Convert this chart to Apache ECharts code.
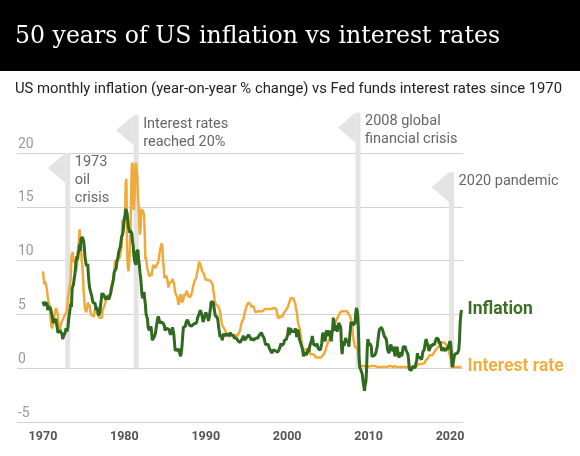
<!DOCTYPE html>
<html><head><meta charset="utf-8">
<script src="https://cdn.jsdelivr.net/npm/echarts@6/dist/echarts.min.js"></script>
<style>html,body{margin:0;padding:0;background:#fff}#c{width:580px;height:456px}</style>
</head><body><div id="c"></div>
<script>
// ---- DATA (monthly, starting January 1970) ----
const startYear = 1970;
const inflation = [
6.2,6.2,5.8,6.1,6.0,6.0,6.0,5.4,5.7,5.6,5.6,5.6,
5.3,5.0,4.7,4.2,4.4,4.6,4.4,4.6,4.1,3.8,3.3,3.3,
3.3,3.5,3.5,3.5,3.2,2.7,2.9,2.9,3.2,3.4,3.7,3.4,
3.6,3.9,4.6,5.1,5.5,6.0,5.7,7.4,7.4,7.8,8.3,8.7,
9.4,10.0,10.4,10.1,10.7,10.9,11.5,10.9,12.0,12.1,12.2,12.3,
11.8,11.2,10.3,10.2,9.5,9.4,9.7,8.6,7.9,7.4,7.4,6.9,
6.7,6.3,6.1,6.1,6.2,6.0,5.4,5.7,5.5,5.5,4.9,4.9,
5.2,5.9,6.4,7.0,6.7,6.9,6.8,6.6,6.6,6.4,6.7,6.7,
6.8,6.4,6.6,6.5,7.0,7.4,7.7,7.8,8.3,8.9,8.9,9.0,
9.3,9.9,10.1,10.5,10.9,10.9,11.3,11.8,12.2,12.1,12.6,13.3,
13.9,14.2,14.8,14.7,14.4,14.4,13.1,12.9,12.6,12.8,12.7,12.5,
11.8,11.4,10.5,10.0,9.8,9.6,10.8,10.8,11.0,10.1,9.6,8.9,
8.4,7.6,6.8,6.5,6.7,7.1,6.4,5.9,5.0,5.1,4.6,3.8,
3.7,3.5,3.6,3.9,3.5,2.6,2.5,2.6,2.9,2.9,3.3,3.8,
4.2,4.6,4.8,4.6,4.2,4.2,4.2,4.3,4.3,4.3,4.1,3.9,
3.5,3.5,3.7,3.7,3.8,3.8,3.6,3.3,3.1,3.2,3.5,3.8,
3.9,3.1,2.3,1.6,1.6,1.8,1.6,1.6,1.8,1.5,1.3,1.1,
1.5,2.1,3.0,3.8,3.9,3.7,3.9,4.3,4.4,4.5,4.5,4.4,
4.0,3.9,3.9,3.9,3.9,4.0,4.1,4.0,4.2,4.2,4.2,4.4,
4.7,4.8,5.0,5.1,5.4,5.2,5.0,4.7,4.3,4.5,4.7,4.6,
5.2,5.3,5.2,4.7,4.4,4.7,4.8,5.6,6.2,6.3,6.3,6.1,
5.7,5.3,4.9,4.9,5.0,4.7,4.4,3.8,3.4,2.9,3.0,3.1,
2.6,2.8,3.2,3.2,3.0,3.1,3.2,3.1,3.0,3.2,3.0,2.9,
3.3,3.2,3.1,3.2,3.2,3.0,2.8,2.8,2.7,2.8,2.7,2.7,
2.5,2.5,2.5,2.4,2.3,2.5,2.8,2.9,3.0,2.6,2.7,2.7,
2.8,2.9,2.9,3.1,3.2,3.0,2.8,2.6,2.5,2.8,2.6,2.5,
2.7,2.7,2.8,2.9,2.9,2.8,3.0,2.9,3.0,3.0,3.3,3.3,
3.0,3.0,2.8,2.5,2.2,2.3,2.2,2.2,2.2,2.1,1.8,1.7,
1.6,1.4,1.4,1.4,1.7,1.7,1.7,1.6,1.5,1.5,1.5,1.6,
1.7,1.6,1.7,2.3,2.1,2.0,2.1,2.3,2.6,2.6,2.6,2.7,
2.7,3.2,3.8,3.1,3.2,3.7,3.7,3.4,3.5,3.4,3.4,3.4,
3.7,3.5,2.9,3.3,3.6,3.2,2.7,2.7,2.6,2.1,1.9,1.6,
1.1,1.1,1.5,1.6,1.2,1.1,1.5,1.8,1.5,2.0,2.2,2.4,
2.6,3.0,3.0,2.2,2.1,2.1,2.1,2.2,2.3,2.0,1.8,1.9,
1.9,1.7,1.7,2.3,3.1,3.3,3.0,2.7,2.5,3.2,3.5,3.3,
3.0,3.0,3.1,3.5,2.8,2.5,3.2,3.6,4.7,4.3,3.5,3.4,
4.0,3.6,3.4,3.5,4.2,4.3,4.1,3.8,2.1,1.3,2.0,2.5,
2.1,2.4,2.8,2.6,2.7,2.7,2.4,2.0,2.8,3.5,4.3,4.1,
4.3,4.0,4.0,3.9,4.2,5.0,5.6,5.4,4.9,3.7,1.1,0.1,
0.0,0.2,-0.4,-0.7,-1.3,-1.4,-2.1,-1.5,-1.3,-0.2,1.8,2.7,
2.6,2.1,2.3,2.2,2.0,1.1,1.2,1.1,1.1,1.2,1.1,1.5,
1.6,2.1,2.7,3.2,3.6,3.6,3.6,3.8,3.9,3.5,3.4,3.0,
2.9,2.9,2.7,2.3,1.7,1.7,1.4,1.7,2.0,2.2,1.8,1.7,
1.6,2.0,1.5,1.1,1.4,1.8,2.0,1.5,1.2,1.0,1.2,1.5,
1.6,1.1,1.5,2.0,2.1,2.1,2.0,1.7,1.7,1.7,1.3,0.8,
-0.1,0.0,-0.1,-0.2,0.0,0.1,0.2,0.2,0.0,0.2,0.5,0.7,
1.4,1.0,0.9,1.1,1.0,1.0,0.8,1.1,1.5,1.6,1.7,2.1,
2.5,2.7,2.4,2.2,1.9,1.6,1.7,1.9,2.2,2.0,2.2,2.1,
2.1,2.2,2.4,2.5,2.8,2.9,2.9,2.7,2.3,2.5,2.2,1.9,
1.6,1.5,1.9,2.0,1.8,1.6,1.8,1.7,1.7,1.8,2.1,2.3,
2.5,2.3,1.5,0.3,0.1,0.6,1.0,1.3,1.4,1.2,1.2,1.4,
1.4,1.7,2.6,4.2,5.0,5.4
];
const interestRate = [
9.0,9.0,7.8,8.1,8.0,7.6,7.2,6.6,6.3,6.2,5.6,4.9,
4.1,3.7,3.7,4.2,4.6,4.9,5.3,5.6,5.6,5.2,4.9,4.1,
3.5,3.3,3.8,4.2,4.3,4.5,4.6,4.8,4.9,5.0,5.1,5.3,
5.9,6.6,7.1,7.1,7.8,8.5,10.4,10.5,10.8,10.0,10.0,10.0,
9.7,9.0,9.4,10.5,11.3,11.9,12.9,12.0,11.3,10.1,9.5,8.5,
7.1,6.2,5.5,5.5,5.2,5.6,6.1,6.1,6.2,5.8,5.2,5.2,
4.9,4.8,4.8,4.8,5.3,5.5,5.3,5.3,5.3,5.0,5.0,4.7,
4.6,4.7,4.7,4.7,5.4,5.4,5.4,5.9,6.1,6.5,6.5,6.6,
6.7,6.8,6.8,6.9,7.4,7.6,7.8,8.0,8.5,9.0,9.8,10.0,
10.1,10.1,10.1,10.0,10.2,10.3,10.5,10.9,11.4,13.8,13.2,13.8,
13.8,14.1,17.2,17.6,11.0,9.5,9.0,9.6,10.9,12.8,15.9,18.9,
19.1,15.9,14.7,15.7,18.5,19.1,19.0,17.8,15.9,15.1,13.3,12.4,
13.2,14.8,14.7,14.9,14.5,14.2,12.6,10.1,10.3,9.7,9.2,9.0,
8.7,8.5,8.8,8.8,8.6,9.0,9.4,9.6,9.5,9.5,9.3,9.5,
9.6,9.6,9.9,10.3,10.3,11.1,11.2,11.6,11.3,10.0,9.4,8.4,
8.4,8.5,8.6,8.3,8.0,7.5,7.9,7.9,7.9,8.0,8.1,8.3,
8.1,7.9,7.5,7.0,6.9,6.9,6.6,6.2,5.9,5.9,6.0,6.9,
6.4,6.1,6.1,6.4,6.9,6.7,6.6,6.7,7.2,7.3,6.7,6.8,
6.8,6.6,6.6,6.9,7.1,7.5,7.8,8.0,8.2,8.3,8.4,8.8,
9.1,9.4,9.9,9.8,9.8,9.5,9.2,9.0,9.0,8.8,8.6,8.5,
8.2,8.2,8.3,8.3,8.2,8.3,8.2,8.1,8.2,8.1,7.8,7.3,
6.9,6.3,6.1,5.9,5.8,5.9,5.8,5.7,5.5,5.2,4.8,4.4,
4.0,4.1,4.0,3.7,3.8,3.8,3.3,3.3,3.2,3.1,3.1,2.9,
3.0,3.0,3.1,3.0,3.0,3.0,3.1,3.0,3.1,3.0,3.0,3.0,
3.1,3.3,3.3,3.6,4.0,4.3,4.3,4.5,4.7,4.8,5.3,5.5,
5.5,5.9,6.0,6.1,6.0,6.0,5.9,5.7,5.8,5.8,5.8,5.6,
5.6,5.2,5.3,5.2,5.2,5.3,5.4,5.2,5.3,5.2,5.3,5.3,
5.3,5.2,5.4,5.5,5.5,5.6,5.5,5.5,5.5,5.5,5.5,5.5,
5.6,5.5,5.5,5.5,5.5,5.6,5.5,5.6,5.5,5.1,4.8,4.7,
4.6,4.8,4.8,4.7,4.7,4.8,5.0,5.1,5.2,5.2,5.4,5.3,
5.5,5.7,5.9,6.0,6.3,6.5,6.5,6.5,6.5,6.5,6.5,6.4,
6.0,5.5,5.3,4.8,4.2,4.0,3.8,3.7,3.1,2.5,2.1,1.8,
1.7,1.7,1.7,1.8,1.8,1.8,1.7,1.7,1.8,1.8,1.3,1.2,
1.2,1.3,1.3,1.3,1.3,1.2,1.0,1.0,1.0,1.0,1.0,1.0,
1.0,1.0,1.0,1.0,1.0,1.0,1.3,1.4,1.6,1.8,1.9,2.2,
2.3,2.5,2.6,2.8,3.0,3.0,3.3,3.5,3.6,3.8,4.0,4.2,
4.3,4.5,4.6,4.8,4.9,5.0,5.2,5.3,5.3,5.3,5.3,5.2,
5.3,5.3,5.3,5.3,5.3,5.3,5.3,5.0,4.9,4.8,4.5,4.2,
3.9,3.0,2.6,2.3,2.0,2.0,2.0,2.0,1.8,1.0,0.4,0.2,
0.2,0.2,0.2,0.2,0.2,0.2,0.2,0.2,0.2,0.1,0.1,0.1,
0.1,0.1,0.2,0.2,0.2,0.2,0.2,0.2,0.2,0.2,0.2,0.2,
0.2,0.2,0.1,0.1,0.1,0.1,0.1,0.1,0.1,0.1,0.1,0.1,
0.1,0.1,0.1,0.1,0.2,0.2,0.2,0.1,0.1,0.2,0.2,0.2,
0.1,0.2,0.1,0.2,0.1,0.1,0.1,0.1,0.1,0.1,0.1,0.1,
0.1,0.1,0.1,0.1,0.1,0.1,0.1,0.1,0.1,0.1,0.1,0.1,
0.1,0.1,0.1,0.1,0.1,0.1,0.1,0.1,0.1,0.1,0.1,0.2,
0.3,0.4,0.4,0.4,0.4,0.4,0.4,0.4,0.4,0.4,0.4,0.5,
0.7,0.7,0.8,0.9,0.9,1.0,1.2,1.2,1.2,1.2,1.2,1.3,
1.4,1.4,1.5,1.7,1.7,1.8,1.9,1.9,2.0,2.2,2.2,2.3,
2.4,2.4,2.4,2.4,2.4,2.4,2.4,2.1,2.0,1.8,1.6,1.6,
1.6,1.6,0.7,0.1,0.1,0.1,0.1,0.1,0.1,0.1,0.1,0.1,
0.1,0.1,0.1,0.1,0.1,0.1
];
const xTickYears = [1970, 1980, 1990, 2000, 2010, 2020];
const seriesNames = ['Interest rate', 'Inflation'];
const annotYears = [1973.05, 1981.45, 2008.7, 2020.2];
const annotTops = [20, 23.5, 23.75, 18.2];
const annotTexts = ['1973\noil\ncrisis', 'Interest rates\nreached 20%', '2008 global\nfinancial crisis', '2020 pandemic'];
const titleText = '50 years of US inflation vs interest rates';
const subtitleText = 'US monthly inflation (year-on-year % change) vs Fed funds interest rates since 1970';

// ---- build ----
const toXY = arr => arr.map((v, i) => [startYear + i / 12, v]);
const annotData = annotYears.map((y, i) => [y, annotTops[i], i]);

function measure(text, font) {
  const ctx = document.createElement('canvas').getContext('2d');
  ctx.font = font;
  return ctx.measureText(text).width;
}
const titleFont = '25px "DejaVu Serif"';
const titleScale = 485 / measure(titleText, titleFont);
const subFont = '14px Roboto';
const subScale = 547 / measure(subtitleText, subFont);

const chart = echarts.init(document.getElementById('c'), null, {renderer: 'canvas'});
const GREEN = '#2f6a1f', ORANGE = '#f0aa3a', BAR = '#e3e3e3';

chart.setOption({
  animation: false,
  backgroundColor: '#fff',
  textStyle: {fontFamily: 'Roboto'},
  grid: {left: 17, right: 117, top: 153, bottom: 34},
  xAxis: {
    type: 'value', min: 1966.81, max: 2021.6,
    axisLine: {show: false}, axisTick: {show: false}, splitLine: {show: false},
    axisLabel: {customValues: xTickYears, color: '#555', fontSize: 12.5, fontWeight: 'bold', margin: 8,
      formatter: v => String(Math.round(v))}
  },
  yAxis: {
    type: 'value', min: -5, max: 20, interval: 5,
    axisLine: {show: false}, axisTick: {show: false},
    splitLine: {lineStyle: {color: '#d2d2d2', width: 1}},
    axisLabel: {inside: true, color: '#9a9a9a', fontSize: 14, verticalAlign: 'bottom', margin: 1, padding: [0, 0, 2, 0]}
  },
  graphic: [
    {type: 'rect', left: 0, top: 0, shape: {width: 580, height: 71}, style: {fill: '#000'}, z: 100},
    {type: 'text', x: 15, y: 36, scaleX: titleScale, z: 101,
      style: {text: titleText, fill: '#fff', font: titleFont, verticalAlign: 'middle', textVerticalAlign: 'middle', align: 'left'}},
    {type: 'text', x: 15, y: 89, scaleX: subScale, z: 101,
      style: {text: subtitleText, fill: '#222', font: subFont, verticalAlign: 'middle', textVerticalAlign: 'middle', align: 'left'}}
  ],
  series: [
    {
      type: 'custom', name: 'annotations', z: 1, clip: false, silent: true,
      data: annotData,
      renderItem: (params, api) => {
        const x = api.value(0), top = api.value(1), idx = api.value(2);
        const pT = api.coord([x, top]);
        const pB = api.coord([x, 0]);
        const w = 5;
        return {type: 'group', children: [
          {type: 'rect', shape: {x: pT[0] - w / 2, y: pT[1], width: w, height: pB[1] - pT[1]}, style: {fill: BAR}},
          {type: 'polygon', shape: {points: [[pT[0] - w / 2, pT[1]], [pT[0] - w / 2, pT[1] + 30], [pT[0] - 20, pT[1] + 15]]}, style: {fill: BAR}},
          {type: 'text', x: pT[0] + 7, y: pT[1],
            style: {text: annotTexts[idx], fill: '#666', fontSize: 14.5, fontFamily: 'Roboto', lineHeight: 18,
              align: 'left', verticalAlign: 'top', textAlign: 'left', textVerticalAlign: 'top'}}
        ]};
      }
    },
    {
      type: 'line', name: seriesNames[0], data: toXY(interestRate), showSymbol: false, z: 2,
      lineStyle: {color: ORANGE, width: 2.5}, itemStyle: {color: ORANGE},
      endLabel: {show: true, formatter: seriesNames[0], color: '#f0b040', fontSize: 17.5, fontWeight: 'bold', distance: 6}
    },
    {
      type: 'line', name: seriesNames[1], data: toXY(inflation), showSymbol: false, z: 3,
      lineStyle: {color: GREEN, width: 3}, itemStyle: {color: GREEN},
      endLabel: {show: true, formatter: seriesNames[1], color: '#3c6e26', fontSize: 17.5, fontWeight: 'bold', distance: 6}
    }
  ]
});
</script>
</body></html>
